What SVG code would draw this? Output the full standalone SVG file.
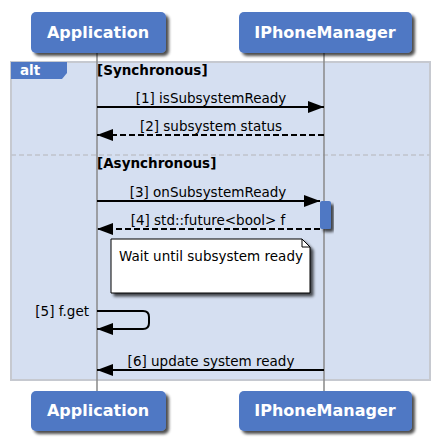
<svg xmlns="http://www.w3.org/2000/svg" width="439" height="439" viewBox="0 0 439 439">
<defs>
<filter id="sh" x="-10%" y="-10%" width="130%" height="140%">
<feGaussianBlur in="SourceAlpha" stdDeviation="1.5"/>
<feOffset dx="3" dy="3" result="b"/>
<feComponentTransfer><feFuncA type="linear" slope="0.7"/></feComponentTransfer>
<feMerge><feMergeNode/><feMergeNode in="SourceGraphic"/></feMerge>
</filter>
<marker id="ah" viewBox="0 0 16 12" refX="16" refY="6" markerWidth="16" markerHeight="12" markerUnits="userSpaceOnUse" orient="auto">
<path d="M0,0 L16,6 L0,12 Z" fill="#000"/>
</marker>
<style>
.pbox{fill:#4f78c4;}
.ptxt{font-family:"DejaVu Sans",sans-serif;font-weight:bold;font-size:16px;fill:#fff;text-anchor:middle;}
.life{stroke:#888;stroke-width:1.5;fill:none;}
.msg{stroke:#000;stroke-width:2;fill:none;}
.dash{stroke-dasharray:6,3;}
.lbl{font-family:"DejaVu Sans",sans-serif;font-size:13.5px;fill:#000;}
.grd{font-family:"DejaVu Sans",sans-serif;font-size:13.5px;font-weight:bold;fill:#000;}
</style>
</defs>
<rect width="439" height="439" fill="#fff"/>
<g id="frame-alt">
<rect x="11" y="62" width="419" height="318" fill="#d5dff1" stroke="#c6c9d0" stroke-width="2"/>
<path d="M11,62 H67 V73 L62,79 H11 Z" fill="#4f78c4"/>
<text x="20" y="75" font-family="DejaVu Sans,sans-serif" font-weight="bold" font-size="13.5" fill="#fff">alt</text>
<text class="grd" x="97" y="75">[Synchronous]</text>
<line x1="11" y1="155" x2="430" y2="155" stroke="#c0c4cc" stroke-width="1.5" stroke-dasharray="5,3"/>
<text class="grd" x="97" y="168">[Asynchronous]</text>
</g>
<g id="lifelines">
<line class="life" x1="97" y1="53" x2="97" y2="391"/>
<line class="life" x1="324" y1="53" x2="324" y2="391"/>
</g>
<g id="participant-application-top">
<rect class="pbox" x="31" y="12" width="135" height="41" rx="5" filter="url(#sh)"/>
<text class="ptxt" x="98" y="38">Application</text>
</g>
<g id="participant-iphonemanager-top">
<rect class="pbox" x="239" y="12" width="173" height="41" rx="5" filter="url(#sh)"/>
<text class="ptxt" x="325" y="38">IPhoneManager</text>
</g>
<g id="participant-application-bottom">
<rect class="pbox" x="31" y="391" width="135" height="40" rx="5" filter="url(#sh)"/>
<text class="ptxt" x="98" y="416">Application</text>
</g>
<g id="participant-iphonemanager-bottom">
<rect class="pbox" x="239" y="391" width="173" height="40" rx="5" filter="url(#sh)"/>
<text class="ptxt" x="325" y="416">IPhoneManager</text>
</g>
<g id="activation">
<rect x="320" y="201" width="11" height="28" rx="2" fill="#4f78c4" filter="url(#sh)"/>
</g>
<g id="note">
<path d="M111,239 H302 L310,247 V293 H111 Z" fill="#fff" stroke="#000" stroke-width="1" filter="url(#sh)"/>
<path d="M302,239 V247 H310" fill="none" stroke="#000" stroke-width="1"/>
<text class="lbl" x="119" y="261">Wait until subsystem ready</text>
</g>
<g id="connectors">
<line class="msg" x1="97" y1="107" x2="324" y2="107" marker-end="url(#ah)"/>
<text class="lbl" x="211" y="103" text-anchor="middle">[1] isSubsystemReady</text>
<line class="msg dash" x1="324" y1="135" x2="97" y2="135" marker-end="url(#ah)"/>
<text class="lbl" x="211" y="131" text-anchor="middle">[2] subsystem status</text>
<line class="msg" x1="97" y1="201" x2="320" y2="201" marker-end="url(#ah)"/>
<text class="lbl" x="208" y="197" text-anchor="middle">[3] onSubsystemReady</text>
<line class="msg dash" x1="320" y1="229" x2="97" y2="229" marker-end="url(#ah)"/>
<text class="lbl" x="208" y="225" text-anchor="middle">[4] std::future&lt;bool&gt; f</text>
<path class="msg" d="M97,311 H143 Q149,311 149,317 V323 Q149,329 143,329 H97" marker-end="url(#ah)"/>
<text class="lbl" x="89" y="316" text-anchor="end">[5] f.get</text>
<line class="msg" x1="324" y1="370" x2="97" y2="370" marker-end="url(#ah)"/>
<text class="lbl" x="211" y="366" text-anchor="middle">[6] update system ready</text>
</g>
</svg>
